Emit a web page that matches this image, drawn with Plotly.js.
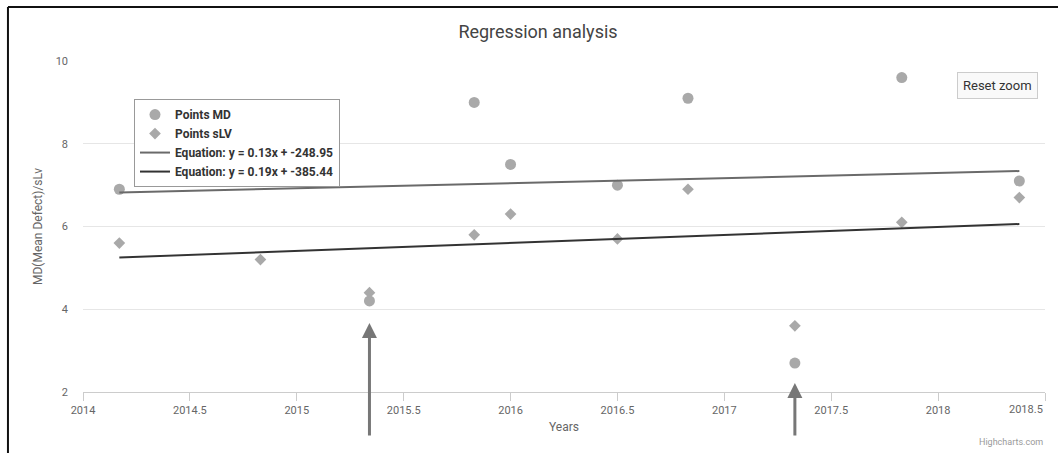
<!DOCTYPE html>
<html>
<head>
<meta charset="utf-8">
<script src="https://cdn.plot.ly/plotly-3.0.1.min.js"></script>
<style>
  html, body { margin: 0; padding: 0; background: #fff; }
  #chart { width: 1058px; height: 453px; }
</style>
</head>
<body>
<div id="chart"></div>
<script>
// ---- data ----
const mdX   = [2014.17, 2015.34, 2015.83, 2016.0, 2016.5, 2016.83, 2017.33, 2017.83, 2018.38];
const mdY   = [6.9, 4.2, 9.0, 7.5, 7.0, 9.1, 2.7, 9.6, 7.1];
const slvX  = [2014.17, 2014.83, 2015.34, 2015.83, 2016.0, 2016.5, 2016.83, 2017.33, 2017.83, 2018.38];
const slvY  = [5.6, 5.2, 4.4, 5.8, 6.3, 5.7, 6.9, 3.6, 6.1, 6.7];
const regX  = [2014.17, 2018.38];
const regMD = [6.82, 7.34];
const regSLV = [5.25, 6.06];
const seriesNames = ["Points MD", "Points sLV",
  "Equation: y = 0.13x + -248.95", "Equation: y = 0.19x + -385.44"];
const xTickVals = [2014, 2014.5, 2015, 2015.5, 2016, 2016.5, 2017, 2017.5, 2018, 2018.5];
const xTickText = ["2014", "2014.5", "2015", "2015.5", "2016", "2016.5", "2017", "2017.5", "2018", "2018.5"];
const yTickVals = [2, 4, 6, 8, 10];
const yTickText = ["2", "4", "6", "8", "10"];
// arrows point up at these MD points (index into mdX)
const arrowIdx = [1, 6];
const arrowTipY = [3.67, 2.22];
const arrowLen = [114, 54];

const FONT = "Roboto, 'Open Sans', sans-serif";

const traces = [
  { x: mdX, y: mdY, name: seriesNames[0], type: "scatter", mode: "markers",
    marker: { symbol: "circle", size: 11, color: "#a9a9a9" } },
  { x: slvX, y: slvY, name: seriesNames[1], type: "scatter", mode: "markers",
    marker: { symbol: "diamond", size: 9, color: "#a9a9a9" } },
  { x: regX, y: regMD, name: seriesNames[2], type: "scatter", mode: "lines",
    line: { color: "#6a6a6a", width: 2 } },
  { x: regX, y: regSLV, name: seriesNames[3], type: "scatter", mode: "lines",
    line: { color: "#333333", width: 2 } }
];

// last x tick label is right-aligned to its tick (as Highcharts does at the edge)
const lastIdx = xTickVals.length - 1;
const shownTickText = xTickText.map((t, i) => (i === lastIdx ? "" : t));

const annotations = [
  { xref: "paper", yref: "paper", x: 0.951, y: 0.927, xanchor: "center", yanchor: "middle",
    text: "Reset zoom", showarrow: false, font: { family: FONT, size: 13, color: "#333" },
    bgcolor: "#f9f9f9", bordercolor: "#cccccc", borderwidth: 1, borderpad: 5 },
  { xref: "paper", yref: "paper", x: 1.0, y: -0.151, xanchor: "right", yanchor: "middle",
    text: "Highcharts.com", showarrow: false, font: { family: FONT, size: 9, color: "#999" } },
  { xref: "x", yref: "paper", x: xTickVals[lastIdx], y: -0.052, xanchor: "right", yanchor: "middle",
    text: xTickText[lastIdx], showarrow: false, font: { family: FONT, size: 11, color: "#666666" } }
];
arrowIdx.forEach((idx, i) => {
  annotations.push({
    xref: "x", yref: "y", x: mdX[idx], y: arrowTipY[i], text: "",
    showarrow: true, axref: "pixel", ayref: "pixel", ax: 0, ay: arrowLen[i],
    arrowhead: 2, arrowsize: 1.0, arrowwidth: 3, arrowcolor: "#777777", standoff: 0
  });
});

const layout = {
  width: 1058, height: 453,
  margin: { l: 83, r: 13, t: 61, b: 61, pad: 0 },
  paper_bgcolor: "#ffffff", plot_bgcolor: "#ffffff",
  font: { family: FONT, color: "#666666" },
  title: { text: "Regression analysis", x: 0.5085, xanchor: "center", y: 0.93, yanchor: "middle",
    font: { family: FONT, size: 18, color: "#444444" } },
  xaxis: {
    range: [2014, 2018.5], tickmode: "array", tickvals: xTickVals, ticktext: shownTickText,
    showgrid: false, zeroline: false,
    showline: true, linecolor: "#cccccc", linewidth: 1,
    ticks: "outside", ticklen: 8, tickcolor: "#cccccc",
    tickfont: { family: FONT, size: 11, color: "#666666" },
    title: { text: "Years", standoff: 6, font: { family: FONT, size: 12, color: "#666666" } }
  },
  yaxis: {
    range: [2, 10], tickmode: "array", tickvals: yTickVals, ticktext: yTickText,
    showgrid: true, gridcolor: "#e6e6e6",
    zeroline: false, showline: false, ticks: "", ticklabelstandoff: 14,
    tickfont: { family: FONT, size: 11, color: "#666666" },
    title: { text: "MD(Mean Defect)/sLv", standoff: 10, font: { family: FONT, size: 12, color: "#666666" } }
  },
  showlegend: true,
  legend: {
    x: 0.053, y: 0.885, xanchor: "left", yanchor: "top",
    bgcolor: "#ffffff", bordercolor: "#999999", borderwidth: 1,
    font: { family: FONT, size: 12, color: "#333333", weight: "bold" },
    itemwidth: 30, tracegroupgap: 0
  },
  annotations: annotations,
  shapes: [
    { type: "line", xref: "paper", yref: "paper", x0: -0.078, x1: 1.02, y0: 1.163, y1: 1.163,
      line: { color: "#111111", width: 2 } },
    { type: "line", xref: "paper", yref: "paper", x0: -0.078, x1: -0.078, y0: 1.163, y1: -0.2,
      line: { color: "#111111", width: 2 } }
  ]
};

Plotly.newPlot("chart", traces, layout, { displayModeBar: false, responsive: false });
</script>
</body>
</html>
